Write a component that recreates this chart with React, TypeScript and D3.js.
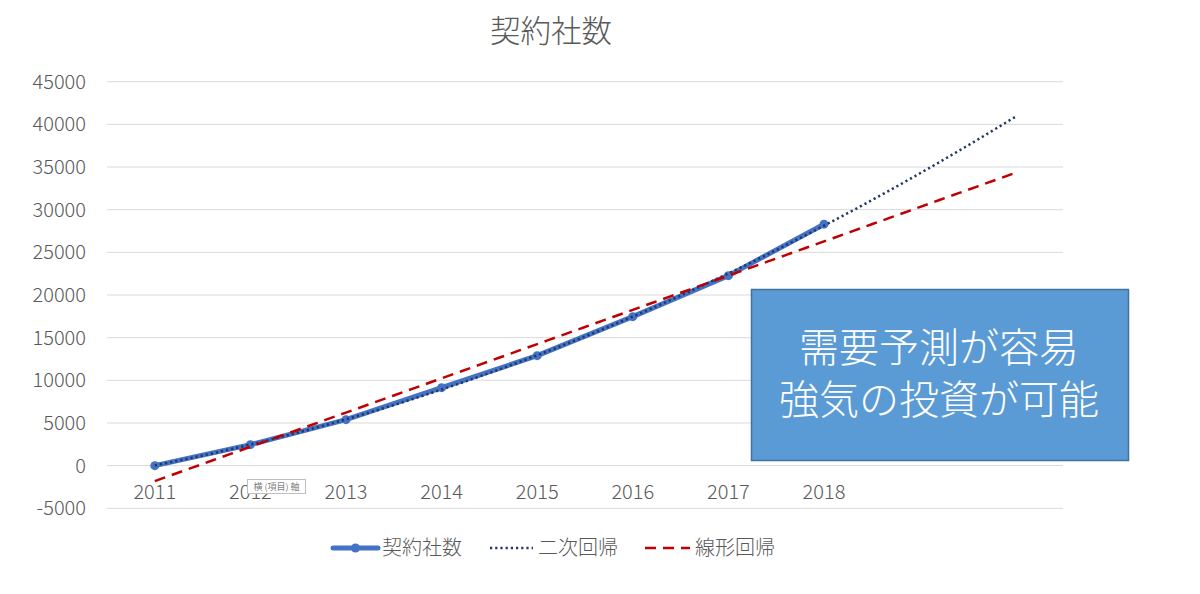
import * as d3 from "d3";

// 年度（カテゴリ）
const years = ["2011", "2012", "2013", "2014", "2015", "2016", "2017", "2018"];
// 予測のための空きカテゴリ
const forecastSlots = ["f1", "f2"];
// 契約社数
const contracts = [0, 2460, 5390, 9140, 12890, 17460, 22270, 28300];
// y軸の目盛
const yTicks = [-5000, 0, 5000, 10000, 15000, 20000, 25000, 30000, 35000, 40000, 45000];

const legendItems = ["契約社数", "二次回帰", "線形回帰"];
const noteLines = ["需要予測が容易", "強気の投資が可能"];

const FONT = "'Noto Sans CJK JP', 'Noto Sans', sans-serif";
const GRAY = "#595959";

// 最小二乗法（Excelの近似曲線と同じ）
function polyFit(xs: number[], ys: number[], deg: number) {
  const n = deg + 1;
  const A: number[][] = [];
  for (let r = 0; r < n; r++) {
    const row: number[] = [];
    for (let c = 0; c < n; c++) row.push(d3.sum(xs, (x) => Math.pow(x, r + c)));
    row.push(d3.sum(xs, (x, i) => Math.pow(x, r) * ys[i]));
    A.push(row);
  }
  for (let i = 0; i < n; i++) {
    for (let k = i + 1; k < n; k++) {
      const f = A[k][i] / A[i][i];
      for (let j = i; j <= n; j++) A[k][j] -= f * A[i][j];
    }
  }
  const coef = new Array(n).fill(0);
  for (let i = n - 1; i >= 0; i--) {
    let s = A[i][n];
    for (let j = i + 1; j < n; j++) s -= A[i][j] * coef[j];
    coef[i] = s / A[i][i];
  }
  return (x: number) => coef.reduce((acc, c, i) => acc + c * Math.pow(x, i), 0);
}

export default function App() {
  const width = 1200;
  const height = 594;
  const left = 107;
  const right = 1063;
  const top = 81.7;
  const bottom = 508.3;

  const allSlots = [...years, ...forecastSlots];
  const x = d3.scaleBand<string>().domain(allSlots).range([left, right]);
  const y = d3.scaleLinear().domain([-5000, 45000]).range([bottom, top]);
  const cx = (i: number) => x.bandwidth() * (i + 0.5) + left; // i は0始まりのカテゴリ番号

  const idx = contracts.map((_, i) => i + 1);
  const quad = polyFit(idx, contracts, 2);
  const lin = polyFit(idx, contracts, 1);
  const tRange = d3.range(1, allSlots.length + 0.001, 0.1);

  const seriesLine = d3
    .line<number>()
    .x((_, i) => cx(i))
    .y((d) => y(d));
  const trendLine = (f: (t: number) => number) =>
    d3
      .line<number>()
      .x((t) => cx(t - 1))
      .y((t) => y(f(t)))(tRange) ?? "";

  const legendY = 548;

  return (
    <svg width={width} height={height} style={{ position: "absolute", left: 0, top: 0, background: "#fff" }}>
      <g fontFamily={FONT} fontWeight={300}>
        <text x={551} y={42} textAnchor="middle" fontSize={30.5} fill={GRAY}>
          契約社数
        </text>

        {/* グリッド線と y 軸ラベル */}
        {yTicks.map((t) => (
          <g key={t}>
            <line x1={left} x2={right} y1={y(t)} y2={y(t)} stroke="#d9d9d9" strokeWidth={1} />
            <text x={86} y={y(t)} dy="0.35em" textAnchor="end" fontSize={20} fill={GRAY}>
              {t}
            </text>
          </g>
        ))}

        {/* x 軸ラベル */}
        {years.map((yr) => (
          <text
            key={yr}
            x={(x(yr) ?? 0) + x.bandwidth() / 2}
            y={499}
            textAnchor="middle"
            fontSize={20}
            fill={GRAY}
          >
            {yr}
          </text>
        ))}
      </g>

      {/* 系列 */}
      <path d={seriesLine(contracts) ?? ""} fill="none" stroke="#4472C4" strokeWidth={5} strokeLinejoin="round" />
      {contracts.map((v, i) => (
        <circle key={i} cx={cx(i)} cy={y(v)} r={4.5} fill="#4472C4" />
      ))}

      {/* 近似曲線 */}
      <path d={trendLine(quad)} fill="none" stroke="#203864" strokeWidth={2.5} strokeDasharray="2.2 3" />
      <path d={trendLine(lin)} fill="none" stroke="#C00000" strokeWidth={2.5} strokeDasharray="11 7" />

      {/* ツールチップの残り */}
      <g>
        <rect x={247.5} y={479.5} width={58} height={14} fill="#fff" stroke="#bfbfbf" strokeWidth={1} />
        <text x={276.5} y={490} textAnchor="middle" fontFamily={FONT} fontSize={9} fill="#7f7f7f">
          横 (項目) 軸
        </text>
      </g>

      {/* テキストボックス */}
      <rect x={751.5} y={289.5} width={377} height={171} fill="#5B9BD5" stroke="#41719C" strokeWidth={1.5} />
      <text
        x={939}
        y={362}
        textAnchor="middle"
        fontFamily={FONT}
        fontWeight={300}
        fontSize={40}
        fill="#fff"
      >
        {noteLines.map((ln, i) => (
          <tspan key={ln} x={939} dy={i === 0 ? 0 : 52}>
            {ln}
          </tspan>
        ))}
      </text>

      {/* 凡例 */}
      <g fontFamily={FONT} fontWeight={300} fontSize={20} fill={GRAY}>
        <line x1={333} x2={378} y1={legendY} y2={legendY} stroke="#4472C4" strokeWidth={5} strokeLinecap="round" />
        <circle cx={355.5} cy={legendY} r={4.5} fill="#4472C4" />
        <text x={382} y={legendY} dy="0.35em">
          {legendItems[0]}
        </text>
        <line x1={490} x2={533} y1={legendY} y2={legendY} stroke="#203864" strokeWidth={2.5} strokeDasharray="2.2 3" />
        <text x={538} y={legendY} dy="0.35em">
          {legendItems[1]}
        </text>
        <line x1={645} x2={690} y1={legendY} y2={legendY} stroke="#C00000" strokeWidth={2.5} strokeDasharray="11 7" />
        <text x={695} y={legendY} dy="0.35em">
          {legendItems[2]}
        </text>
      </g>
    </svg>
  );
}
